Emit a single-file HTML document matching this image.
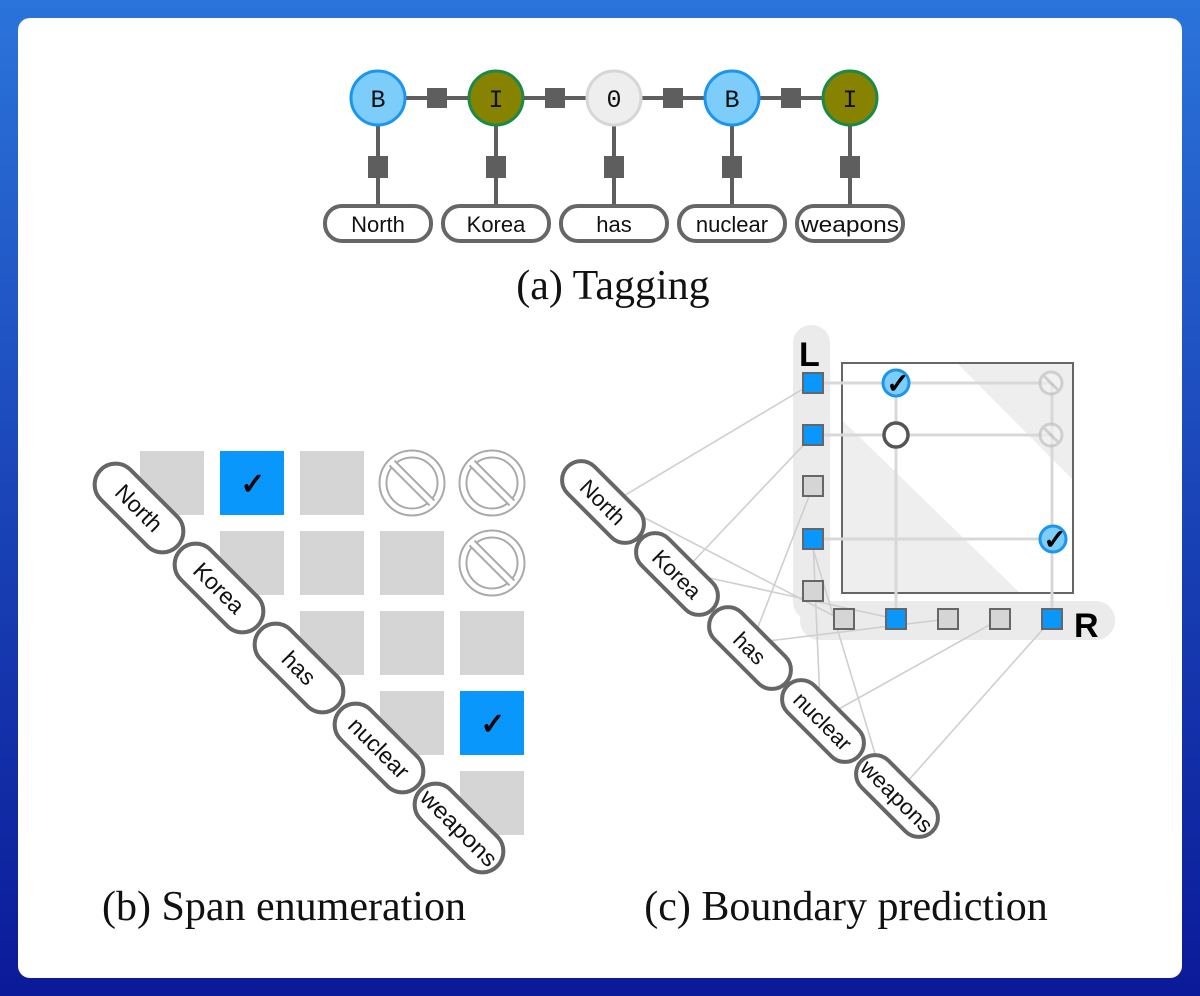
<!DOCTYPE html>
<html><head><meta charset="utf-8"><style>
html,body{margin:0;padding:0;}
body{width:1200px;height:996px;background:linear-gradient(180deg,#2b74db 0%,#1a44b8 50%,#0b1a98 100%);position:relative;overflow:hidden;}
svg{position:absolute;left:0;top:0;}
</style></head><body>
<svg width="1200" height="996" viewBox="0 0 1200 996" xmlns="http://www.w3.org/2000/svg" font-family="Liberation Sans, sans-serif">
<rect x="18" y="18" width="1164" height="960" rx="12" fill="#fff"/>
<!-- (a) -->
<g stroke="#5e5e5e" stroke-width="4">
<line x1="378" y1="98" x2="850" y2="98"/>
<line x1="378" y1="98" x2="378" y2="206"/><line x1="496" y1="98" x2="496" y2="206"/><line x1="614" y1="98" x2="614" y2="206"/><line x1="732" y1="98" x2="732" y2="206"/><line x1="850" y1="98" x2="850" y2="206"/>
</g>
<g fill="#5e5e5e">
<rect x="427" y="88" width="20" height="20"/><rect x="545" y="88" width="20" height="20"/><rect x="663" y="88" width="20" height="20"/><rect x="781" y="88" width="20" height="20"/>
<rect x="368" y="156" width="20" height="22"/><rect x="486" y="156" width="20" height="22"/><rect x="604" y="156" width="20" height="22"/><rect x="722" y="156" width="20" height="22"/><rect x="840" y="156" width="20" height="22"/>
</g>
<circle cx="378" cy="98" r="27" fill="#7dcdfb" stroke="#1c95ee" stroke-width="3"/>
<circle cx="496" cy="98" r="27" fill="#878200" stroke="#1a8a4a" stroke-width="3"/>
<circle cx="614" cy="98" r="27" fill="#eeeeee" stroke="#d6d6d6" stroke-width="3"/>
<circle cx="732" cy="98" r="27" fill="#7dcdfb" stroke="#1c95ee" stroke-width="3"/>
<circle cx="850" cy="98" r="27" fill="#878200" stroke="#1a8a4a" stroke-width="3"/>
<g font-family="Liberation Mono, monospace" font-size="25" text-anchor="middle" fill="#111">
<text x="378" y="107">B</text><text x="496" y="107">I</text><text x="614" y="107">0</text><text x="732" y="107">B</text><text x="850" y="107">I</text>
</g>
<g fill="#fff" stroke="#666" stroke-width="4">
<rect x="325" y="206" width="106" height="35" rx="17"/><rect x="443" y="206" width="106" height="35" rx="17"/><rect x="561" y="206" width="106" height="35" rx="17"/><rect x="679" y="206" width="106" height="35" rx="17"/><rect x="797" y="206" width="106" height="35" rx="17"/>
</g>
<g font-size="22" text-anchor="middle" fill="#111">
<text x="378" y="232">North</text><text x="496" y="232">Korea</text><text x="614" y="232">has</text><text x="732" y="232">nuclear</text><text x="850" y="232" textLength="98" lengthAdjust="spacingAndGlyphs">weapons</text>
</g>
<text x="613" y="299" font-family="Liberation Serif, serif" font-size="42" text-anchor="middle" fill="#111">(a) Tagging</text>
<!-- (b) -->
<g fill="#d5d5d5">
<rect x="140" y="451" width="64" height="64"/><rect x="300" y="451" width="64" height="64"/>
<rect x="220" y="531" width="64" height="64"/><rect x="300" y="531" width="64" height="64"/><rect x="380" y="531" width="64" height="64"/>
<rect x="300" y="611" width="64" height="64"/><rect x="380" y="611" width="64" height="64"/><rect x="460" y="611" width="64" height="64"/>
<rect x="380" y="691" width="64" height="64"/>
<rect x="460" y="771" width="64" height="64"/>
</g>
<rect x="220" y="451" width="64" height="64" fill="#0997fb"/>
<rect x="460" y="691" width="64" height="64" fill="#0997fb"/>
<text x="253" y="494" font-size="30" font-weight="bold" text-anchor="middle" fill="#000">✓</text>
<text x="493" y="734" font-size="30" font-weight="bold" text-anchor="middle" fill="#000">✓</text>
<g transform="translate(412,483)">
<circle r="29" fill="none" stroke="#aaa" stroke-width="9"/><circle r="29" fill="none" stroke="#fff" stroke-width="5"/>
<line x1="-20" y1="-20" x2="20" y2="20" stroke="#aaa" stroke-width="9"/><line x1="-21" y1="-21" x2="21" y2="21" stroke="#fff" stroke-width="5"/>
</g>
<g transform="translate(492,483)">
<circle r="29" fill="none" stroke="#aaa" stroke-width="9"/><circle r="29" fill="none" stroke="#fff" stroke-width="5"/>
<line x1="-20" y1="-20" x2="20" y2="20" stroke="#aaa" stroke-width="9"/><line x1="-21" y1="-21" x2="21" y2="21" stroke="#fff" stroke-width="5"/>
</g>
<g transform="translate(492,563)">
<circle r="29" fill="none" stroke="#aaa" stroke-width="9"/><circle r="29" fill="none" stroke="#fff" stroke-width="5"/>
<line x1="-20" y1="-20" x2="20" y2="20" stroke="#aaa" stroke-width="9"/><line x1="-21" y1="-21" x2="21" y2="21" stroke="#fff" stroke-width="5"/>
</g>
<g font-size="23" text-anchor="middle" fill="#111">
<g transform="translate(139,508) rotate(45)"><rect x="-54" y="-21" width="108" height="42" rx="21" fill="#fff" stroke="#666" stroke-width="4"/><text y="8">North</text></g>
<g transform="translate(219,588) rotate(45)"><rect x="-54" y="-21" width="108" height="42" rx="21" fill="#fff" stroke="#666" stroke-width="4"/><text y="8">Korea</text></g>
<g transform="translate(299,668) rotate(45)"><rect x="-54" y="-21" width="108" height="42" rx="21" fill="#fff" stroke="#666" stroke-width="4"/><text y="8">has</text></g>
<g transform="translate(379,748) rotate(45)"><rect x="-54" y="-21" width="108" height="42" rx="21" fill="#fff" stroke="#666" stroke-width="4"/><text y="8">nuclear</text></g>
<g transform="translate(459,828) rotate(45)"><rect x="-54" y="-21" width="108" height="42" rx="21" fill="#fff" stroke="#666" stroke-width="4"/><text y="8" textLength="98" lengthAdjust="spacingAndGlyphs">weapons</text></g>
</g>
<text x="284" y="920" font-family="Liberation Serif, serif" font-size="42" text-anchor="middle" fill="#111">(b) Span enumeration</text>
<!-- (c) -->
<rect x="793" y="325" width="37" height="295" rx="18" fill="#ebebeb"/>
<rect x="800" y="601" width="315" height="39" rx="19" fill="#ebebeb"/>
<rect x="842" y="363" width="231" height="230" fill="#fff"/>
<polygon points="957,363 1073,363 1073,480" fill="#eeeeee"/>
<polygon points="842,420 842,593 1020,593" fill="#eeeeee"/>
<rect x="842" y="363" width="231" height="230" fill="none" stroke="#666" stroke-width="2"/>
<g stroke="#d8d8d8" stroke-width="3">
<line x1="823" y1="383" x2="1050" y2="383"/><line x1="823" y1="435" x2="1050" y2="435"/><line x1="823" y1="539" x2="1052" y2="539"/>
<line x1="896" y1="383" x2="896" y2="609"/><line x1="1052" y1="383" x2="1052" y2="609"/>
</g>
<g stroke="#cfcfcf" stroke-width="1.6">
<line x1="813" y1="383" x2="622" y2="497"/>
<line x1="813" y1="435" x2="690" y2="565"/>
<line x1="813" y1="486" x2="756" y2="632"/>
<line x1="813" y1="539" x2="820" y2="702"/>
<line x1="810" y1="539" x2="880" y2="770"/>
<line x1="643" y1="517" x2="840" y2="619"/>
<line x1="705" y1="577" x2="896" y2="619"/>
<line x1="768" y1="641" x2="948" y2="619"/>
<line x1="837" y1="710" x2="1000" y2="619"/>
<line x1="907" y1="782" x2="1052" y2="619"/>
</g>
<g stroke="#666" stroke-width="2">
<rect x="803" y="373" width="20" height="20" fill="#0997fb"/>
<rect x="803" y="425" width="20" height="20" fill="#0997fb"/>
<rect x="803" y="476" width="20" height="20" fill="#d5d5d5"/>
<rect x="803" y="529" width="20" height="20" fill="#0997fb"/>
<rect x="803" y="581" width="20" height="20" fill="#d5d5d5"/>
<rect x="834" y="609" width="20" height="20" fill="#d5d5d5"/>
<rect x="886" y="609" width="20" height="20" fill="#0997fb"/>
<rect x="938" y="609" width="20" height="20" fill="#d5d5d5"/>
<rect x="990" y="609" width="20" height="20" fill="#d5d5d5"/>
<rect x="1042" y="609" width="20" height="20" fill="#0997fb"/>
</g>
<text x="799" y="366" font-size="34" font-weight="bold" fill="#000">L</text>
<text x="1074" y="637" font-size="34" font-weight="bold" fill="#000">R</text>
<circle cx="896" cy="383" r="13" fill="#7dcdfb" stroke="#1c95ee" stroke-width="3"/>
<text x="898" y="393" font-size="28" font-weight="bold" text-anchor="middle" fill="#000">✓</text>
<circle cx="1053" cy="539" r="13" fill="#7dcdfb" stroke="#1c95ee" stroke-width="3"/>
<text x="1055" y="549" font-size="28" font-weight="bold" text-anchor="middle" fill="#000">✓</text>
<circle cx="896" cy="435" r="12" fill="#fff" stroke="#555" stroke-width="3.5"/>
<g opacity="0.6">
<g transform="translate(1051,383)"><circle r="11" fill="#f4f4f4" stroke="#bbb" stroke-width="3"/><line x1="-7" y1="-7" x2="7" y2="7" stroke="#bbb" stroke-width="3"/></g>
<g transform="translate(1051,435)"><circle r="11" fill="#f4f4f4" stroke="#bbb" stroke-width="3"/><line x1="-7" y1="-7" x2="7" y2="7" stroke="#bbb" stroke-width="3"/></g>
</g>
<g font-size="22" text-anchor="middle" fill="#111">
<g transform="translate(603,502) rotate(45)"><rect x="-50" y="-19" width="100" height="38" rx="19" fill="#fff" stroke="#666" stroke-width="4"/><text y="8">North</text></g>
<g transform="translate(677,574) rotate(45)"><rect x="-50" y="-19" width="100" height="38" rx="19" fill="#fff" stroke="#666" stroke-width="4"/><text y="8">Korea</text></g>
<g transform="translate(750,648) rotate(45)"><rect x="-50" y="-19" width="100" height="38" rx="19" fill="#fff" stroke="#666" stroke-width="4"/><text y="8">has</text></g>
<g transform="translate(823,721) rotate(45)"><rect x="-50" y="-19" width="100" height="38" rx="19" fill="#fff" stroke="#666" stroke-width="4"/><text y="8">nuclear</text></g>
<g transform="translate(897,796) rotate(45)"><rect x="-50" y="-19" width="100" height="38" rx="19" fill="#fff" stroke="#666" stroke-width="4"/><text y="8" textLength="92" lengthAdjust="spacingAndGlyphs">weapons</text></g>
</g>
<text x="846" y="920" font-family="Liberation Serif, serif" font-size="42" text-anchor="middle" fill="#111">(c) Boundary prediction</text>
</svg>
</body></html>
